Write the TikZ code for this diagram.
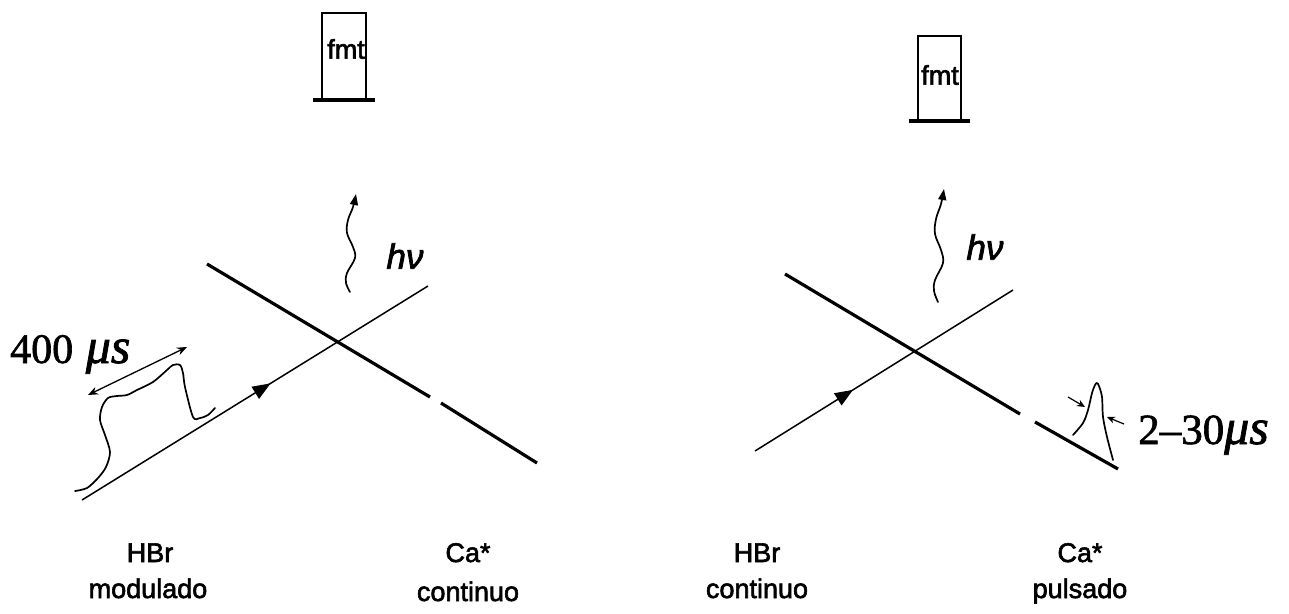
\documentclass[tikz,border=0pt]{standalone}
\usepackage{fontspec}
\setmainfont{Liberation Serif}[FakeBold=1.5]
\newfontfamily\arialf{Liberation Sans}[FakeBold=2.2]
\usetikzlibrary{arrows.meta,decorations.markings}
\begin{document}
\begin{tikzpicture}[x=1pt,y=-1pt,
  thinline/.style={line width=1.5pt},
  thickline/.style={line width=3.2pt},
  curve/.style={line width=1.7pt, line join=round, line cap=round},
  boxline/.style={line width=1.8pt},
  barline/.style={line width=4.5pt},
  lbl/.style={font=\arialf\fontsize{27}{28}\selectfont, inner sep=0pt, anchor=base},
  fmtlbl/.style={font=\arialf\fontsize{27}{28}\selectfont, inner sep=0pt},
  hnu/.style={font=\arialf\itshape\fontsize{35}{35}\selectfont, inner sep=0pt},
  timelbl/.style={font=\fontsize{42}{42}\selectfont, inner sep=0pt, anchor=base west},
  midarrow/.style={postaction={decorate}, decoration={markings,
     mark=at position #1 with {\arrow{Triangle[length=18pt,width=14pt]}}}},
  wavetip/.style={-{Triangle[length=11pt,width=8pt]}},
  smalltip/.style={-{Stealth[length=8pt,width=7pt]}, line width=1.2pt}
]
\useasboundingbox (0,0) rectangle (1289,613);

% ---------------- left panel ----------------
% photomultiplier
\draw[boxline] (322,100) |- (366,13) -- (366,100);
\draw[barline] (313,100) -- (375,100);
\node[fmtlbl] (fmtL) at (346,49) {fmt};

% beams
\coordinate (hbrLa) at (82,500);
\coordinate (hbrLb) at (428,286);
\draw[thinline, midarrow=0.545] (hbrLa) -- (hbrLb);
\coordinate (caLa) at (207,264);
\coordinate (caLg1) at (430,397);
\coordinate (caLg2) at (441,403);
\coordinate (caLb) at (537,463);
\draw[thickline] (caLa) -- (caLg1);
\draw[thickline] (caLg2) -- (caLb);

% emitted light
\draw[curve, wavetip] plot[smooth, tension=0.6] coordinates {(350,292) (346,283) (347,273) (355,258) (353,247) (347,233) (348,220) (353,207) (356,194)};
\node[hnu] (hnuL) at (405,256) {hν};

% modulated pulse
\draw[curve] plot[smooth, tension=0.5] coordinates {(75,491) (87,488) (98,478) (106,467) (110,452) (105,435) (100,420) (102,407) (108,398) (117,396) (127,395) (137,390) (153,382) (167,370) (173,365) (180,365) (183,373) (185,387) (193,417) (200,418) (208,415) (215,408)};
\coordinate (durA) at (88,395);
\coordinate (durB) at (187,347);
\draw[line width=1.3pt, {Stealth[length=10pt,width=8pt]}-{Stealth[length=10pt,width=8pt]}] (durA) -- (durB);
\node[timelbl] (tL) at (10,363) {400\hspace{0.3em}{\fontsize{50}{50}\selectfont\itshape μs}};

% labels
\node[lbl] (hbrL1) at (150,562) {HBr};
\node[lbl] (hbrL2) at (148,598) {modulado};
\node[lbl] (caL1) at (468,562) {Ca*};
\node[lbl] (caL2) at (468,601) {continuo};

% ---------------- right panel ----------------
\draw[boxline] (918,121) |- (961,36) -- (961,121);
\draw[barline] (909,121) -- (970,121);
\node[fmtlbl] (fmtR) at (940,75) {fmt};

\coordinate (hbrRa) at (755,451);
\coordinate (hbrRb) at (1013,290);
\draw[thinline, midarrow=0.38] (hbrRa) -- (hbrRb);
\coordinate (caRa) at (785,274);
\coordinate (caRg1) at (1020,414);
\coordinate (caRg2) at (1035,422);
\coordinate (caRb) at (1118,469);
\draw[thickline] (caRa) -- (caRg1);
\draw[thickline] (caRg2) -- (caRb);

\draw[curve, wavetip] plot[smooth, tension=0.6] coordinates {(938,302) (934,291) (935,280) (943,263) (941,250) (935,234) (936,219) (941,204) (944,189)};
\node[hnu] (hnuR) at (985,247) {hν};

% short pulse
\draw[curve] plot[smooth, tension=0.5] coordinates {(1073,435) (1083,423) (1088,410) (1092,393) (1095,385) (1097,383) (1099,386) (1102,397) (1103,417) (1107,437) (1113,460)};
\coordinate (wA1) at (1068,397);
\coordinate (wA2) at (1085,407);
\coordinate (wB1) at (1124,424);
\coordinate (wB2) at (1107,417);
\draw[smalltip] (wA1) -- (wA2);
\draw[smalltip] (wB1) -- (wB2);
\node[timelbl] (tR) at (1138,444) {\fontsize{43}{43}\selectfont 2–30{\fontsize{50}{50}\selectfont\itshape μs}};

\node[lbl] (hbrR1) at (757,562) {HBr};
\node[lbl] (hbrR2) at (757,598) {continuo};
\node[lbl] (caR1) at (1080,562) {Ca*};
\node[lbl] (caR2) at (1080,598) {pulsado};
\end{tikzpicture}
\end{document}
